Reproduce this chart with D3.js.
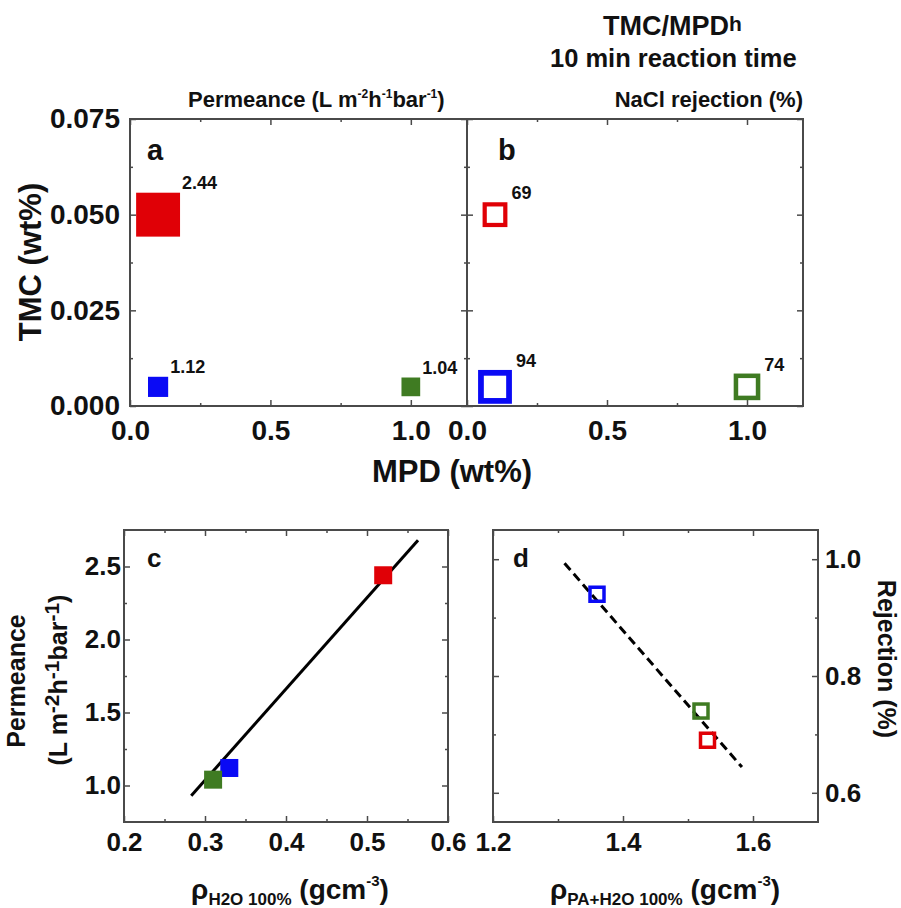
<!DOCTYPE html>
<html>
<head>
<meta charset="utf-8">
<script src="https://cdn.jsdelivr.net/npm/d3@7"></script>
<style>
  html, body { margin: 0; padding: 0; background: #fff; }
  text { font-family: "Liberation Sans", Arial, sans-serif; font-weight: bold; fill: #111; }
</style>
</head>
<body>
<svg id="chart" width="901" height="908"></svg>
<script>
// ---------------- data ----------------
const samples = ["TMC 0.05 / MPD 0.1", "TMC 0.005 / MPD 0.1", "TMC 0.005 / MPD 1.0"];
const mpd = [0.1, 0.1, 1.0];                 // wt%
const tmc = [0.05, 0.005, 0.005];            // wt%
const permeance = [2.44, 1.12, 1.04];        // L m-2 h-1 bar-1
const rejection = [69, 94, 74];              // %
const rhoH2O = [0.52, 0.33, 0.31];           // g cm-3
const rhoPAH2O = [1.53, 1.36, 1.52];         // g cm-3
const fitC_x = [0.283, 0.563];
const fitC_y = [0.93, 2.68];
const fitD_x = [1.31, 1.583];
const fitD_y = [0.993, 0.644];

const abXTicks = [0, 0.5, 1.0], abXMinor = [0.25, 0.75];
const aYTicks = [0, 0.025, 0.05, 0.075], aYMinor = [0.0125, 0.0375, 0.0625];
const cXTicks = [0.2, 0.3, 0.4, 0.5, 0.6], cXMinor = [0.25, 0.35, 0.45, 0.55];
const cYTicks = [1.0, 1.5, 2.0, 2.5], cYMinor = [1.25, 1.75, 2.25];
const dXTicks = [1.2, 1.4, 1.6], dXMinor = [1.3, 1.5];
const dYTicks = [0.6, 0.8, 1.0], dYMinor = [0.7, 0.9];

const colors = ["#e00006", "#0a0af5", "#3f7b22"];

// ---------------- layout ----------------
const svg = d3.select("#chart");
svg.append("rect").attr("width", 901).attr("height", 908).attr("fill", "#fff");

const PA = {x0: 130, x1: 467, y0: 119, y1: 406};
const PB = {x0: 467, x1: 803, y0: 119, y1: 406};
const PC = {x0: 124, x1: 448, y0: 530, y1: 822};
const PD = {x0: 493, x1: 818, y0: 530, y1: 822};

const xA = d3.scaleLinear().domain([0, 1.2]).range([PA.x0, PA.x1]);
const xB = d3.scaleLinear().domain([0, 1.2]).range([PB.x0, PB.x1]);
const yAB = d3.scaleLinear().domain([0, 0.075]).range([PA.y1, PA.y0]);
const xC = d3.scaleLinear().domain([0.2, 0.6]).range([PC.x0, PC.x1]);
const yC = d3.scaleLinear().domain([0.75, 2.75]).range([PC.y1, PC.y0]);
const xD = d3.scaleLinear().domain([1.2, 1.7]).range([PD.x0, PD.x1]);
const yD = d3.scaleLinear().domain([0.55, 1.05]).range([PD.y1, PD.y0]);

const sizeA = d3.scaleLinear().domain([0, 1]).range([0, 18]);   // filled marker side per permeance
const sizeB = d3.scaleLinear().domain([0, 100]).range([0, 36]); // hollow marker side per rejection

const frameColor = "#4a4a4a";

function styleAxis(sel, fontSize) {
  sel.select(".domain").remove();
  sel.selectAll(".tick line").attr("stroke", frameColor).attr("stroke-width", 1.5);
  sel.selectAll(".tick text")
    .attr("font-family", '"Liberation Sans", Arial, sans-serif')
    .attr("font-weight", "bold")
    .attr("font-size", fontSize)
    .attr("fill", "#1a1a1a");
}

function panelAxes(P, x, y, o) {
  const g = svg.append("g");
  g.append("g").attr("transform", `translate(0,${P.y1})`)
    .call(d3.axisBottom(x).tickValues(o.xT).tickSize(-6).tickPadding(o.xPad)
      .tickFormat(o.xLabels ? d3.format(o.xFmt) : ""))
    .call(s => styleAxis(s, o.fs));
  g.append("g").attr("transform", `translate(0,${P.y1})`)
    .call(d3.axisBottom(x).tickValues(o.xM).tickSize(-3).tickFormat(""))
    .call(s => styleAxis(s, o.fs));
  g.append("g").attr("transform", `translate(0,${P.y0})`)
    .call(d3.axisTop(x).tickValues(o.xT).tickSize(-6).tickFormat(""))
    .call(s => styleAxis(s, o.fs));
  g.append("g").attr("transform", `translate(0,${P.y0})`)
    .call(d3.axisTop(x).tickValues(o.xM).tickSize(-3).tickFormat(""))
    .call(s => styleAxis(s, o.fs));
  g.append("g").attr("transform", `translate(${P.x0},0)`)
    .call(d3.axisLeft(y).tickValues(o.yT).tickSize(-6).tickPadding(o.yPad)
      .tickFormat(o.yLeftLabels ? d3.format(o.yFmt) : ""))
    .call(s => styleAxis(s, o.fs));
  g.append("g").attr("transform", `translate(${P.x0},0)`)
    .call(d3.axisLeft(y).tickValues(o.yM).tickSize(-3).tickFormat(""))
    .call(s => styleAxis(s, o.fs));
  g.append("g").attr("transform", `translate(${P.x1},0)`)
    .call(d3.axisRight(y).tickValues(o.yT).tickSize(-6).tickPadding(o.yPad)
      .tickFormat(o.yRightLabels ? d3.format(o.yFmt) : ""))
    .call(s => styleAxis(s, o.fs));
  g.append("g").attr("transform", `translate(${P.x1},0)`)
    .call(d3.axisRight(y).tickValues(o.yM).tickSize(-3).tickFormat(""))
    .call(s => styleAxis(s, o.fs));
  g.append("rect").attr("x", P.x0).attr("y", P.y0)
    .attr("width", P.x1 - P.x0).attr("height", P.y1 - P.y0)
    .attr("fill", "none").attr("stroke", frameColor).attr("stroke-width", 2);
  return g;
}

panelAxes(PA, xA, yAB, {xT: abXTicks, xM: abXMinor, yT: aYTicks, yM: aYMinor,
  xLabels: true, xFmt: ".1f", yLeftLabels: true, yRightLabels: false, yFmt: ".3f",
  xPad: 14, yPad: 10, fs: 28});
panelAxes(PB, xB, yAB, {xT: abXTicks, xM: abXMinor, yT: aYTicks, yM: aYMinor,
  xLabels: true, xFmt: ".1f", yLeftLabels: false, yRightLabels: false, yFmt: ".3f",
  xPad: 14, yPad: 10, fs: 28});
panelAxes(PC, xC, yC, {xT: cXTicks, xM: cXMinor, yT: cYTicks, yM: cYMinor,
  xLabels: true, xFmt: ".1f", yLeftLabels: true, yRightLabels: false, yFmt: ".1f",
  xPad: 11, yPad: 3, fs: 26});
panelAxes(PD, xD, yD, {xT: dXTicks, xM: dXMinor, yT: dYTicks, yM: dYMinor,
  xLabels: true, xFmt: ".1f", yLeftLabels: false, yRightLabels: true, yFmt: ".1f",
  xPad: 11, yPad: 7, fs: 26});

const idx = d3.range(samples.length);

// ---------------- panel a ----------------
const gA = svg.append("g");
gA.selectAll("rect").data(idx).join("rect")
  .attr("x", i => xA(mpd[i]) - sizeA(permeance[i]) / 2)
  .attr("y", i => yAB(tmc[i]) - sizeA(permeance[i]) / 2)
  .attr("width", i => sizeA(permeance[i]))
  .attr("height", i => sizeA(permeance[i]))
  .attr("fill", i => colors[i]);
gA.selectAll("text.val").data(idx).join("text").attr("class", "val")
  .attr("x", i => xA(mpd[i]) + sizeA(permeance[i]) / 2 + 2)
  .attr("y", i => yAB(tmc[i]) - sizeA(permeance[i]) / 2 - 4)
  .attr("font-size", 18).attr("fill", "#222")
  .text(i => permeance[i].toFixed(2));

// ---------------- panel b ----------------
const gB = svg.append("g");
gB.selectAll("rect").data(idx).join("rect")
  .attr("x", i => xB(mpd[i]) - sizeB(rejection[i]) * 0.415)
  .attr("y", i => yAB(tmc[i]) - sizeB(rejection[i]) * 0.415)
  .attr("width", i => sizeB(rejection[i]) * 0.83)
  .attr("height", i => sizeB(rejection[i]) * 0.83)
  .attr("fill", "none")
  .attr("stroke", i => colors[i])
  .attr("stroke-width", i => sizeB(rejection[i]) * 0.17);
gB.selectAll("text.val").data(idx).join("text").attr("class", "val")
  .attr("x", i => xB(mpd[i]) + sizeB(rejection[i]) / 2 + 4)
  .attr("y", i => yAB(tmc[i]) - sizeB(rejection[i]) / 2 - 3)
  .attr("font-size", 18).attr("fill", "#222")
  .text(i => rejection[i]);

// ---------------- panel c ----------------
const gC = svg.append("g");
gC.append("path")
  .attr("d", d3.line().x(d => xC(d[0])).y(d => yC(d[1]))(d3.zip(fitC_x, fitC_y)))
  .attr("stroke", "#000").attr("stroke-width", 3).attr("fill", "none");
gC.selectAll("rect").data(idx).join("rect")
  .attr("x", i => xC(rhoH2O[i]) - 9)
  .attr("y", i => yC(permeance[i]) - 9)
  .attr("width", 18).attr("height", 18)
  .attr("fill", i => colors[i]);

// ---------------- panel d ----------------
const gD = svg.append("g");
gD.append("path")
  .attr("d", d3.line().x(d => xD(d[0])).y(d => yD(d[1]))(d3.zip(fitD_x, fitD_y)))
  .attr("stroke", "#000").attr("stroke-width", 3).attr("fill", "none")
  .attr("stroke-dasharray", "9,5");
gD.selectAll("rect").data(idx).join("rect")
  .attr("x", i => xD(rhoPAH2O[i]) - 7)
  .attr("y", i => yD(rejection[i] / 100) - 7)
  .attr("width", 14).attr("height", 14)
  .attr("fill", "none").attr("stroke", i => colors[i]).attr("stroke-width", 3.5);

// ---------------- panel letters ----------------
const letters = [["a", 147, 160, 29], ["b", 498, 160, 29], ["c", 147, 567, 26], ["d", 513, 567, 26]];
svg.selectAll("text.letter").data(letters).join("text").attr("class", "letter")
  .attr("x", d => d[1]).attr("y", d => d[2]).attr("font-size", d => d[3])
  .text(d => d[0]);

// ---------------- titles ----------------
const t1 = svg.append("text").attr("x", 603).attr("y", 35).attr("font-size", 27);
t1.append("tspan").text("TMC/MPD");
t1.append("tspan").attr("font-size", 21).attr("dy", -4).text("h");
svg.append("text").attr("x", 550).attr("y", 67).attr("font-size", 25.5).text("10 min reaction time");
svg.append("text").attr("x", 803).attr("y", 107).attr("text-anchor", "end").attr("font-size", 22)
  .text("NaCl rejection (%)");
const tp = svg.append("text").attr("x", 188).attr("y", 107).attr("font-size", 22);
tp.append("tspan").text("Permeance (L m");
tp.append("tspan").attr("font-size", 12).attr("baseline-shift", "9").text("-2");
tp.append("tspan").text("h");
tp.append("tspan").attr("font-size", 12).attr("baseline-shift", "9").text("-1");
tp.append("tspan").text("bar");
tp.append("tspan").attr("font-size", 12).attr("baseline-shift", "9").text("-1");
tp.append("tspan").text(")");

svg.append("text").attr("transform", "translate(41,262) rotate(-90)")
  .attr("text-anchor", "middle").attr("font-size", 31).text("TMC (wt%)");
svg.append("text").attr("x", 452).attr("y", 482)
  .attr("text-anchor", "middle").attr("font-size", 31).text("MPD (wt%)");

svg.append("text").attr("transform", "translate(25,681) rotate(-90)")
  .attr("text-anchor", "middle").attr("font-size", 25).text("Permeance");
const pc2 = svg.append("text").attr("transform", "translate(67,680) rotate(-90)")
  .attr("text-anchor", "middle").attr("font-size", 25);
pc2.append("tspan").text("(L m");
pc2.append("tspan").attr("font-size", 21).attr("baseline-shift", "8").text("-2");
pc2.append("tspan").text("h");
pc2.append("tspan").attr("font-size", 21).attr("baseline-shift", "8").text("-1");
pc2.append("tspan").text("bar");
pc2.append("tspan").attr("font-size", 21).attr("baseline-shift", "8").text("-1");
pc2.append("tspan").text(")");

svg.append("text").attr("transform", "translate(878,659) rotate(90)")
  .attr("text-anchor", "middle").attr("font-size", 25).text("Rejection (%)");

function rhoLabel(cx, sub) {
  const t = svg.append("text").attr("x", cx).attr("y", 899).attr("text-anchor", "middle")
    .attr("font-size", 28).attr("font-weight", "normal").attr("fill", "#222");
  t.append("tspan").text("\u03C1");
  t.append("tspan").attr("font-size", 17).attr("font-weight", "bold").attr("dy", 6).text(sub);
  t.append("tspan").attr("dy", -6).attr("font-weight", "bold").text(" (gcm");
  t.append("tspan").attr("font-size", 15).attr("font-weight", "bold").attr("dy", -13).text("-3");
  t.append("tspan").attr("dy", 13).attr("font-weight", "bold").text(")");
}
rhoLabel(290, "H2O  100%");
rhoLabel(665, "PA+H2O  100%");
</script>
</body>
</html>
